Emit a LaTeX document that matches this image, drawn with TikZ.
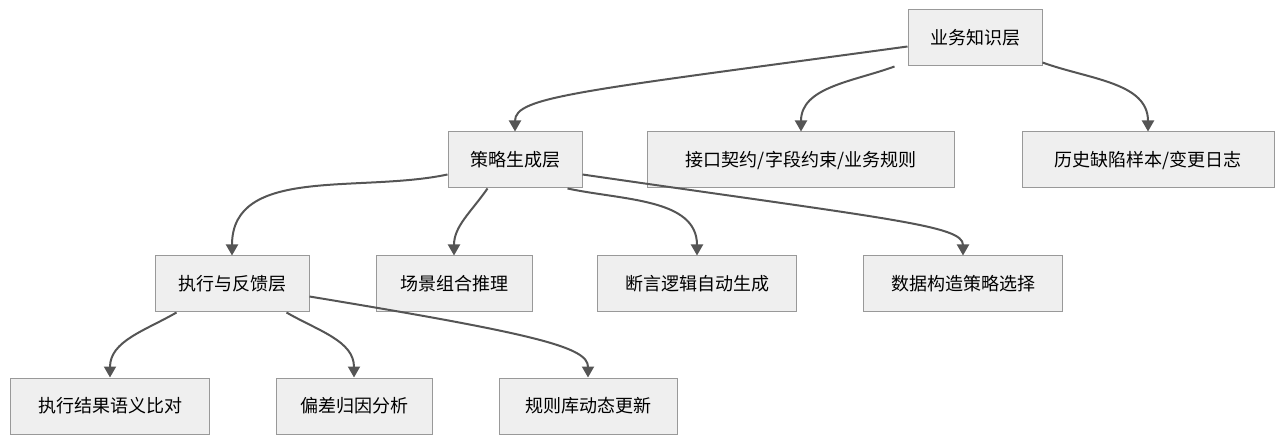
\documentclass[tikz,border=0pt]{standalone}
\usepackage{fontspec}
\setmainfont{Noto Sans CJK SC}
\usetikzlibrary{arrows.meta,calc}
\definecolor{boxfill}{HTML}{EFEFEF}
\definecolor{boxline}{HTML}{999999}
\definecolor{edge}{HTML}{555555}
\begin{document}
\begin{tikzpicture}[x=1pt,y=-1pt,
  box/.style={draw=boxline,fill=boxfill,line width=1pt,minimum height=56pt,inner sep=0pt,font=\fontsize{18}{21}\selectfont,text=black},
  link/.style={draw=edge,line width=2pt,-{Triangle[length=11pt,width=12pt]}}]
\useasboundingbox (0,0) rectangle (1284,443);
\node[box,minimum width=134pt] (k) at (975,38) {业务知识层};
\node[box,minimum width=134pt] (s) at (515,160) {策略生成层};
\node[box,minimum width=307pt] (i) at (801,160) {接口契约/字段约束/业务规则};
\node[box,minimum width=252pt] (h) at (1148,160) {历史缺陷样本/变更日志};
\node[box,minimum width=154pt] (e) at (232,284) {执行与反馈层};
\node[box,minimum width=156pt] (c) at (454,284) {场景组合推理};
\node[box,minimum width=199pt] (a) at (697,284) {断言逻辑自动生成};
\node[box,minimum width=199pt] (d) at (963,284) {数据构造策略选择};
\node[box,minimum width=199pt] (r) at (110,406) {执行结果语义比对};
\node[box,minimum width=156pt] (b) at (354,406) {偏差归因分析};
\node[box,minimum width=178pt] (u) at (588,406) {规则库动态更新};
\draw[link] ($(k.north west)+(0,37)$) .. controls +(-330,45) and +(0,-35) .. (s.north);
\draw[link] ($(k.south west)+(-13,0)$) to[out=200,in=90] (i.north);
\draw[link] ($(k.south east)+(0,-4)$) to[out=-20,in=90] (h.north);
\draw[link] ($(s.north west)+(0,43)$) to[out=192,in=90] (e.north);
\draw[link] ($(s.south west)+(40,0)$) to[out=235,in=90] (c.north);
\draw[link] ($(s.south east)+(-15,0)$) to[out=-12,in=90] (a.north);
\draw[link] ($(s.north east)+(0,43)$) .. controls +(310,45) and +(0,-30) .. (d.north);
\draw[link] ($(e.south west)+(22,0)$) to[out=210,in=90] (r.north);
\draw[link] ($(e.south west)+(132,0)$) to[out=-30,in=90] (b.north);
\draw[link] ($(e.north east)+(0,41)$) .. controls +(230,38) and +(0,-30) .. (u.north);
\end{tikzpicture}
\end{document}
